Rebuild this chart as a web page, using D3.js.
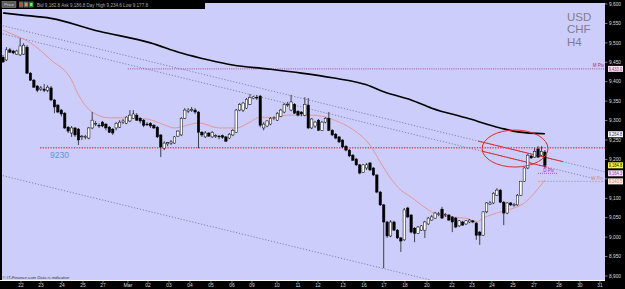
<!DOCTYPE html>
<html><head><meta charset="utf-8">
<script src="https://cdn.jsdelivr.net/npm/d3@7"></script>
<style>html,body{margin:0;padding:0;background:#000;} svg{display:block;font-family:"Liberation Sans",Arial,sans-serif;}</style>
</head><body>
<svg id="c" width="625" height="289"></svg>
<script>
// ---- DATA (USD/CHF, H4) ----
// candles: [open, high, low, close] in pips (9,xxx)
const candles = [
[9463,9469,9448,9451],[9456,9489,9453,9482],[9482,9487,9474,9476],[9479,9482,9471,9474],[9471,9482,9469,9479],
[9469,9512,9466,9492],[9471,9499,9469,9494],[9489,9494,9420,9422],[9422,9425,9402,9404],[9404,9407,9384,9386],
[9389,9391,9373,9378],[9381,9389,9376,9384],[9381,9394,9373,9378],[9378,9391,9373,9386],[9384,9389,9350,9353],
[9353,9355,9319,9335],[9340,9342,9319,9322],[9327,9330,9311,9317],[9319,9322,9278,9281],[9283,9286,9268,9273],
[9268,9286,9258,9281],[9281,9283,9258,9263],[9278,9281,9237,9250],[9258,9263,9250,9260],[9258,9263,9252,9259],
[9255,9283,9252,9281],[9281,9322,9278,9301],[9291,9299,9286,9293],[9288,9293,9281,9286],[9296,9299,9283,9286],
[9291,9293,9275,9281],[9283,9286,9268,9270],[9278,9281,9263,9268],[9281,9296,9275,9293],[9283,9301,9281,9296],
[9296,9304,9291,9299],[9293,9311,9291,9309],[9299,9327,9296,9314],[9306,9327,9304,9317],[9314,9319,9299,9301],
[9306,9309,9293,9299],[9301,9304,9283,9288],[9291,9296,9286,9290],[9293,9296,9281,9286],[9288,9291,9278,9281],
[9283,9286,9255,9258],[9263,9265,9206,9232],[9229,9247,9224,9242],[9240,9245,9234,9243],[9242,9250,9237,9245],
[9242,9260,9240,9258],[9260,9275,9258,9273],[9263,9309,9260,9306],[9306,9332,9304,9327],[9324,9332,9319,9327],
[9327,9335,9322,9328],[9327,9332,9317,9322],[9322,9324,9229,9270],[9270,9273,9258,9263],[9258,9273,9255,9268],
[9268,9270,9258,9260],[9258,9273,9255,9270],[9260,9265,9255,9261],[9260,9263,9252,9258],[9261,9264,9253,9257],
[9258,9260,9245,9247],[9255,9268,9252,9265],[9263,9278,9260,9275],[9270,9330,9268,9327],[9327,9345,9324,9342],
[9327,9348,9322,9345],[9332,9358,9330,9355],[9342,9368,9340,9360],[9357,9363,9355,9361],[9360,9366,9353,9358],
[9363,9366,9283,9288],[9281,9296,9275,9291],[9286,9301,9283,9299],[9291,9309,9288,9306],[9306,9311,9301,9307],
[9301,9322,9299,9319],[9311,9330,9309,9327],[9322,9345,9319,9342],[9340,9348,9335,9342],[9327,9366,9324,9348],
[9342,9345,9317,9319],[9324,9327,9311,9314],[9322,9324,9311,9317],[9314,9360,9311,9342],[9340,9358,9278,9281],
[9281,9306,9278,9304],[9286,9299,9281,9296],[9301,9304,9273,9275],[9275,9299,9273,9296],[9296,9309,9293,9306],
[9306,9322,9273,9275],[9275,9278,9260,9263],[9265,9268,9252,9255],[9258,9260,9242,9245],[9250,9252,9229,9232],
[9234,9237,9221,9224],[9224,9227,9206,9209],[9211,9214,9196,9198],[9201,9204,9183,9186],[9186,9188,9162,9165],
[9167,9188,9165,9186],[9178,9191,9173,9186],[9191,9193,9170,9173],[9178,9180,9157,9160],[9160,9162,9113,9116],
[9116,9119,9080,9083],[9083,9085,8920,9039],[9039,9042,8998,9003],[9003,9044,9000,9039],[9039,9042,9016,9018],
[9018,9021,8995,8998],[8998,9000,8962,8990],[8993,9075,8990,9070],[9075,9078,9049,9052],[9057,9059,9010,9013],
[9023,9026,8987,9010],[9010,9029,9008,9026],[9018,9031,9016,9029],[9018,9042,8998,9039],[9034,9052,9031,9049],
[9044,9057,9042,9052],[9049,9065,9047,9062],[9059,9065,9054,9060],[9072,9078,9047,9049],[9057,9062,9052,9058],
[9057,9059,9042,9044],[9052,9054,9013,9039],[9049,9052,9023,9026],[9029,9044,9026,9042],[9039,9042,9029,9031],
[9034,9044,9031,9042],[9039,9047,9036,9044],[9042,9044,9036,9039],[9036,9039,8993,9005],[9013,9016,8980,9005],
[9005,9067,9003,9065],[9065,9090,9062,9088],[9085,9093,9083,9088],[9088,9116,9085,9113],[9108,9126,9106,9121],
[9121,9124,9088,9090],[9090,9093,9031,9062],[9062,9090,9059,9088],[9088,9090,9080,9083],[9083,9088,9078,9084],
[9083,9111,9080,9108],[9108,9144,9106,9144],[9144,9180,9142,9178],[9178,9214,9175,9211],[9209,9211,9201,9204],
[9206,9229,9204,9221],[9227,9234,9204,9206],[9211,9234,9209,9221],[9219,9224,9178,9185]
];
// slow moving average (black) sampled at bar indices
const maSlowIdx = [0,5,14,28,43,52,60,67,77,87,96,106,111,119,125,135,145,150,158];
const maSlowVal = [9577,9572,9563,9530,9500,9474,9456,9443,9433,9422,9410,9392,9374,9353,9332,9307,9281,9271,9266];
// fast moving average (salmon)
const maFastIdx = [0,2,8,14,20,22,26,31,37,42,47,50,55,57,63,68,72,75,79,83,90,94,98,103,107,110,113,116,119,122,125,130,135,138,140,144,148,152,155,158];
const maFastVal = [9533,9525,9500,9456,9404,9366,9322,9307,9307,9304,9289,9281,9291,9294,9281,9281,9296,9309,9307,9314,9314,9309,9296,9271,9237,9193,9152,9121,9103,9083,9065,9052,9049,9039,9049,9062,9072,9088,9114,9147];
// trend lines: [startIdx, startPrice, endIdx, endPrice]
const trendUpper = [-0.9,9546,175.5,9168];
const trendMid   = [-0.9,9525,172.6,9150];
const trendLower = [-0.9,9160,124.5,8890];
const redSegUpper = [138.5,163.3];
const redSegMid   = [139.7,158.6];
// levels
const supportLevel = 9230, mPiv = 9433.0, dPiv = 9164.3, wPiv = 9143.5;
const lastPrice = 9184.8, maSlowLast = 9264.8;
// y axis ticks
const yTicks = [8900,8950,9000,9050,9100,9150,9200,9250,9300,9350,9400,9450,9500,9550,9600];
// date labels and their bar positions
const dateLabels = ["22","23","24","25","27","Mar","02","03","04","05","06","09","10","11","12","13","16","17","18","20","22","23","24","25","27","28","30","31"];
const datePos = [5.25,11.08,17.2,23.32,29.15,36.44,42.27,48.4,54.52,60.64,66.76,72.59,79.88,86.0,91.84,99.13,105.25,111.08,117.2,123.62,130.9,136.73,142.57,148.69,154.81,162.1,168.2,174.05];
// ellipse annotation: centre idx, centre price, radius in bars, radius in pips
const ellipse = [149.3, 9228, 9.6, 47.6];

// ---- DRAW ----
const W=625,H=289;
const P={l:2,r:605,t:3,b:280};
const x=d3.scaleLinear().domain([0,158]).range([3,544.9]);
const y=d3.scaleLinear().domain([8900,9600]).range([276,4]);
const fmt=d3.format(",.0f"), fmt1=d3.format(",.1f");
const svg=d3.select('#c');
svg.append('rect').attr('width',W).attr('height',H).attr('fill','#000');
svg.append('rect').attr('x',P.l).attr('y',P.t).attr('width',P.r-P.l).attr('height',P.b-P.t).attr('fill','#cdcdfb');
svg.append('defs').append('clipPath').attr('id','clip').append('rect')
  .attr('x',P.l).attr('y',P.t).attr('width',P.r-P.l).attr('height',P.b-P.t);
const g=svg.append('g').attr('clip-path','url(#clip)');

function tl(t){return d3.line()([[x(t[0]),y(t[1])],[x(t[2]),y(t[3])]]);}
function tAt(t,i){return t[1]+(t[3]-t[1])*(i-t[0])/(t[2]-t[0]);}
// dotted trend lines
[trendUpper,trendMid,trendLower].forEach(t=>{
  g.append('path').attr('d',tl(t)).attr('stroke','#6e6e96').attr('stroke-width',0.8)
   .attr('stroke-dasharray','1.2,1.8').attr('fill','none');
});
// red highlighted segments
[[trendUpper,redSegUpper],[trendMid,redSegMid]].forEach(([t,s])=>{
  g.append('line').attr('x1',x(s[0])).attr('y1',y(tAt(t,s[0]))).attr('x2',x(s[1])).attr('y2',y(tAt(t,s[1])))
   .attr('stroke','#e02a2a').attr('stroke-width',1);
});
// horizontal levels
g.append('line').attr('x1',x(10.8)).attr('x2',P.r).attr('y1',y(supportLevel)).attr('y2',y(supportLevel))
  .attr('stroke','#e8406a').attr('stroke-width',1.4).attr('stroke-dasharray','1.3,1.3');
g.append('line').attr('x1',x(36.4)).attr('x2',P.r).attr('y1',y(mPiv)).attr('y2',y(mPiv))
  .attr('stroke','#a03070').attr('stroke-width',0.8).attr('stroke-dasharray','1,1.2');
g.append('line').attr('x1',x(156)).attr('x2',x(161.6)).attr('y1',y(dPiv)).attr('y2',y(dPiv))
  .attr('stroke','#9a309a').attr('stroke-width',0.8).attr('stroke-dasharray','1,1');
g.append('line').attr('x1',x(156)).attr('x2',P.r).attr('y1',y(wPiv)).attr('y2',y(wPiv))
  .attr('stroke','#e89070').attr('stroke-width',0.8).attr('stroke-dasharray','2,1');

// moving averages
const lineGen=d3.line().curve(d3.curveMonotoneX);
g.append('path').attr('d',lineGen(maFastIdx.map((d,k)=>[x(d),y(maFastVal[k])])))
  .attr('fill','none').attr('stroke','#e3918a').attr('stroke-width',0.9);
g.append('path').attr('d',lineGen(maSlowIdx.map((d,k)=>[x(d),y(maSlowVal[k])])))
  .attr('fill','none').attr('stroke','#000').attr('stroke-width',1.6);

// candles
const bw=2.4;
const cg=g.append('g');
candles.forEach((c,i)=>{
  const [o,h,l,cl]=c, cx=x(i);
  cg.append('line').attr('x1',cx).attr('x2',cx).attr('y1',y(h)).attr('y2',y(l)).attr('stroke','#000').attr('stroke-width',0.7);
  const top=y(Math.max(o,cl)), bot=y(Math.min(o,cl));
  cg.append('rect').attr('x',cx-bw/2).attr('y',top).attr('width',bw).attr('height',Math.max(bot-top,0.8))
    .attr('fill',cl>=o?'#fff':'#000').attr('stroke','#000').attr('stroke-width',0.5);
});

// ellipse
const ex=x(ellipse[0]), ey=y(ellipse[1]);
g.append('ellipse').attr('cx',ex).attr('cy',ey).attr('rx',x(ellipse[0]+ellipse[2])-ex).attr('ry',y(ellipse[1]-ellipse[3])-ey)
  .attr('fill','none').attr('stroke','#e02a2a').attr('stroke-width',1);

// text labels in plot
g.append('text').attr('x',x(13.7)).attr('y',y(supportLevel)+10.5).text('9230')
  .attr('font-size',8.5).attr('fill','#5f95d6');
g.append('text').attr('x',x(157.5)).attr('y',y(dPiv)-1.5).text('D Piv').attr('font-size',4.5).attr('fill','#9a309a');
g.append('text').attr('x',P.r-2).attr('y',y(wPiv)-1.5).attr('text-anchor','end').text('W Piv').attr('font-size',4.5).attr('fill','#e08a6a');
g.append('text').attr('x',P.r-1).attr('y',y(mPiv)-1.5).attr('text-anchor','end').text('M Piv').attr('font-size',4.5).attr('fill','#a03070');
['USD','CHF','H4'].forEach((t,k)=>{
  g.append('text').attr('x',567).attr('y',20.5+k*12.5).text(t).attr('font-size',11.5).attr('fill','#7e7e90');
});

// top toolbar
svg.append('rect').attr('x',0).attr('y',0).attr('width',W).attr('height',P.t).attr('fill','#000');
svg.append('rect').attr('x',0).attr('y',0).attr('width',205).attr('height',9).attr('fill','#000');
svg.append('rect').attr('x',2).attr('y',1.5).attr('width',14).attr('height',6).attr('fill','#5a5a5a').attr('stroke','#999').attr('stroke-width',0.5);
svg.append('text').attr('x',9).attr('y',6.3).attr('text-anchor','middle').text('Price').attr('font-size',4.2).attr('fill','#ddd');
[['#666','#e04040'],['#666','#e09030'],['#2a7a2a','#7ce07c']].forEach((c,k)=>{
  svg.append('rect').attr('x',19+k*5).attr('y',1.5).attr('width',4.5).attr('height',6).attr('fill',c[0]);
  svg.append('rect').attr('x',20+k*5).attr('y',3).attr('width',2.5).attr('height',3).attr('fill',c[1]);
});
svg.append('text').attr('x',37).attr('y',6.5).text('Bid 9,182.8 Ask 9,186.8  Day  High 9,234.6 Low 9,177.8')
  .attr('font-size',4.6).attr('fill','#aaa').attr('textLength',111).attr('lengthAdjust','spacingAndGlyphs');

// footer
svg.append('text').attr('x',2.5).attr('y',278.5).text('© IT-Finance.com  Data is indicative')
  .attr('font-size',4.4).attr('font-style','italic').attr('fill','#333').attr('textLength',67).attr('lengthAdjust','spacingAndGlyphs');
svg.append('line').attr('x1',0).attr('x2',P.r).attr('y1',P.b+0.5).attr('y2',P.b+0.5).attr('stroke','#fff').attr('stroke-width',1);

// right axis
const ra=svg.append('g');
const boxes=[[mPiv,'#f4e4f4','#a03070'],[maSlowLast,'#ffffff','#202060'],[lastPrice,'#ffff50','#000'],[dPiv,'#f0e4fa','#9a309a'],[wPiv,'#fbece6','#e07a5a']];
yTicks.forEach(t=>{
  ra.append('line').attr('x1',P.r).attr('x2',P.r+2.5).attr('y1',y(t)).attr('y2',y(t)).attr('stroke','#ccc').attr('stroke-width',0.6);
  const hidden=boxes.some(b=>Math.abs(y(b[0])-y(t))<5);
  if(!hidden) ra.append('text').attr('x',609).attr('y',y(t)+1.7).text(fmt(t)).attr('font-size',4.8).attr('fill','#ddd');
});
boxes.forEach(([v,bg,fg])=>{
  ra.append('rect').attr('x',608).attr('y',y(v)-3).attr('width',15).attr('height',6).attr('fill',bg);
  ra.append('text').attr('x',608.7).attr('y',y(v)+1.8).text(fmt1(v)).attr('font-size',4.6).attr('fill',fg)
    .attr('textLength',13.6).attr('lengthAdjust','spacingAndGlyphs');
});

// bottom axis
const ba=svg.append('g');
dateLabels.forEach((t,k)=>{
  const px=x(datePos[k]);
  ba.append('line').attr('x1',px).attr('x2',px).attr('y1',P.b+1).attr('y2',P.b+3).attr('stroke','#bbb').attr('stroke-width',0.6);
  ba.append('text').attr('x',px).attr('y',286.8).attr('text-anchor','middle').text(t)
    .attr('font-size',t==='Mar'?5.2:4.8).attr('fill','#ddd');
});
</script>
</body></html>
